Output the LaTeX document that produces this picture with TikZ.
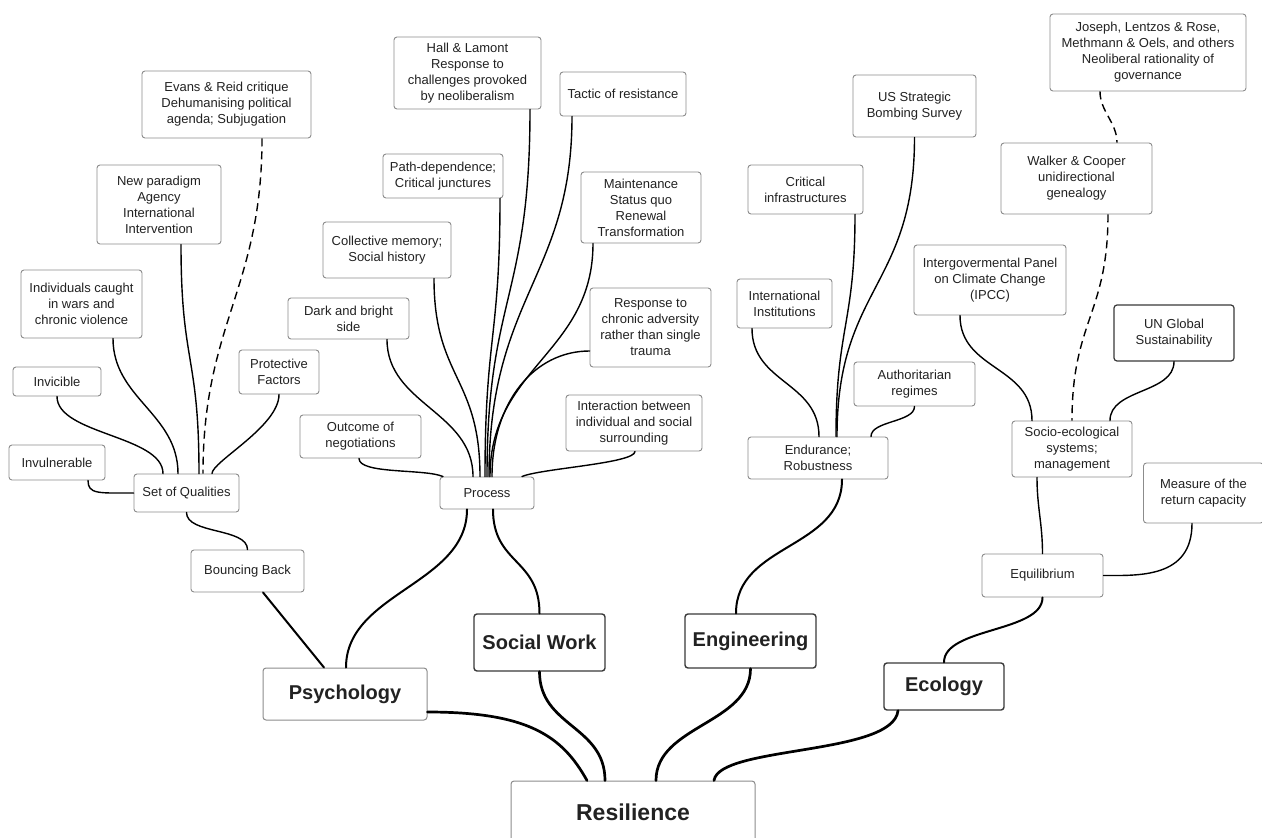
\documentclass[tikz,border=0pt]{standalone}
\usepackage{fontspec}
\setmainfont{Liberation Sans}
\definecolor{boxgray}{HTML}{8C8C8C}
\definecolor{darkbox}{HTML}{3A3A3A}
\definecolor{textc}{HTML}{222222}
\tikzset{
  box/.style={draw=boxgray, line width=0.9pt, rounded corners=3pt, fill=white,
    align=center, font=\fontsize{13}{16}\selectfont, text=textc, inner sep=0pt},
  mainbox/.style={box, draw=darkbox, line width=1.4pt,
    font=\bfseries\fontsize{20}{24}\selectfont},
  link/.style={line width=1.4pt, line cap=round},
  dlink/.style={line width=1.4pt, dash pattern=on 8pt off 5pt},
  midlink/.style={line width=2pt, line cap=round},
  trunk/.style={line width=2.7pt, line cap=round}
}
\begin{document}
\begin{tikzpicture}[x=1pt,y=-1pt]
\useasboundingbox (0,0) rectangle (1262,838);
\fill[white] (0,0) rectangle (1262,838);

% ---- Psychology group
\node[box, minimum width=169pt, minimum height=67pt] (evans) at (226.5,104.5) {Evans \& Reid critique\\Dehumanising political\\agenda; Subjugation};
\node[box, minimum width=124pt, minimum height=79pt] (newpar) at (159,204.5) {New paradigm\\Agency\\International\\Intervention};
\node[box, minimum width=121pt, minimum height=68pt] (indiv) at (81.5,304) {Individuals caught\\in wars and\\chronic violence};
\node[box, minimum width=88pt, minimum height=29pt] (invic) at (57,381.5) {Invicible};
\node[box, minimum width=96pt, minimum height=35pt] (invul) at (57,462.5) {Invulnerable};
\node[box, minimum width=105pt, minimum height=38pt] (soq) at (186.5,493) {Set of Qualities};
\node[box, minimum width=80pt, minimum height=44pt] (protect) at (279,372) {Protective\\Factors};
\node[box, minimum width=113pt, minimum height=42pt] (bounce) at (247.5,571) {Bouncing Back};

% ---- Social work group
\node[box, minimum width=121pt, minimum height=43pt] (outcome) at (360.5,436.5) {Outcome of\\negotiations};
\node[box, minimum width=147pt, minimum height=72pt] (hall) at (467.5,73) {Hall \& Lamont\\Response to\\challenges provoked\\by neoliberalism};
\node[box, minimum width=126pt, minimum height=44pt] (tactic) at (623,94) {Tactic of resistance};
\node[box, minimum width=120pt, minimum height=44pt] (path) at (443,176) {Path-dependence;\\Critical junctures};
\node[box, minimum width=120pt, minimum height=71pt] (maint) at (641,207.5) {Maintenance\\Status quo\\Renewal\\Transformation};
\node[box, minimum width=128pt, minimum height=56pt] (collect) at (387,250) {Collective memory;\\Social history};
\node[box, minimum width=121pt, minimum height=41pt] (dark) at (348.5,318.5) {Dark and bright\\side};
\node[box, minimum width=121pt, minimum height=79pt] (respon) at (650.5,327.5) {Response to\\chronic adversity\\rather than single\\trauma};
\node[box, minimum width=136pt, minimum height=56pt] (interact) at (634,423) {Interaction between\\individual and social\\surrounding};
\node[box, minimum width=94pt, minimum height=32pt] (process) at (487,493) {Process};

% ---- Engineering group
\node[box, minimum width=123pt, minimum height=62pt] (us) at (914.5,106) {US Strategic\\Bombing Survey};
\node[box, minimum width=115pt, minimum height=49pt] (crit) at (805.5,189.5) {Critical\\infrastructures};
\node[box, minimum width=95pt, minimum height=49pt] (intl) at (784.5,303.5) {International\\Institutions};
\node[box, minimum width=121pt, minimum height=44pt] (auth) at (914.5,384) {Authoritarian\\regimes};
\node[box, minimum width=140pt, minimum height=42pt] (endur) at (818,458) {Endurance;\\Robustness};

% ---- Ecology group
\node[box, minimum width=196pt, minimum height=77pt] (joseph) at (1148,52.5) {Joseph, Lentzos \& Rose,\\Methmann \& Oels, and others\\Neoliberal rationality of\\governance};
\node[box, minimum width=151pt, minimum height=71pt] (walker) at (1076.5,178.5) {Walker \& Cooper\\unidirectional\\genealogy};
\node[box, minimum width=152pt, minimum height=70pt] (ipcc) at (990,280) {Intergovermental Panel\\on Climate Change\\(IPCC)};
\node[box, draw=darkbox, line width=1.2pt, minimum width=120pt, minimum height=56pt] (un) at (1174,333) {UN Global\\Sustainability};
\node[box, minimum width=120pt, minimum height=56pt] (socio) at (1072,449) {Socio-ecological\\systems;\\management};
\node[box, minimum width=120pt, minimum height=60pt] (measure) at (1203.5,493) {Measure of the\\return capacity};
\node[box, minimum width=121pt, minimum height=43pt] (equil) at (1042.5,575.5) {Equilibrium};

% ---- Main branches
\node[mainbox, draw=boxgray, line width=1pt, minimum width=164pt, minimum height=52pt] (psych) at (345,694) {Psychology};
\node[mainbox, minimum width=131pt, minimum height=57pt] (social) at (539.5,642.5) {Social Work};
\node[mainbox, minimum width=131pt, minimum height=54pt] (engin) at (750.5,641) {Engineering};
\node[mainbox, minimum width=120pt, minimum height=47pt] (ecol) at (944,686.5) {Ecology};
\node[mainbox, draw=boxgray, line width=1pt, minimum width=244pt, minimum height=62pt,
      font=\bfseries\fontsize{23}{27}\selectfont] (resil) at (633,812) {Resilience};

% ---- Connectors: Psychology group
\draw[link] ([xshift=31pt]invul.south) .. controls +(0,14) and +(-35,0) .. (soq.west);
\draw[link] (invic.south) .. controls +(0,38) and +(0,-38) .. ([xshift=-23.5pt]soq.north);
\draw[link] ([xshift=31.5pt]indiv.south) .. controls +(0,60) and +(0,-60) .. ([xshift=-8.5pt]soq.north);
\draw[link] ([xshift=22pt]newpar.south) .. controls +(0,120) and +(0,-120) .. ([xshift=12.5pt]soq.north);
\draw[dlink] ([xshift=35.5pt]evans.south) .. controls +(0,150) and +(0,-150) .. ([xshift=16.5pt]soq.north);
\draw[link] (protect.south) .. controls +(0,32) and +(0,-12) .. ([xshift=25.5pt]soq.north);
\draw[link] (soq.south) .. controls +(0,22) and +(0,-22) .. (bounce.north);
\draw[midlink] ([xshift=15.5pt]bounce.south) -- ([xshift=-21pt]psych.north);
\draw[midlink] ([xshift=1pt]psych.north) .. controls +(0,-75) and +(0,75) .. ([xshift=-20pt]process.south);

% ---- Connectors: Process
\draw[link] ([xshift=-1.5pt]outcome.south) .. controls +(0,16) and +(-18,-8) .. ([xshift=-44pt]process.north);
\draw[link] ([xshift=1pt]interact.south) .. controls +(0,12) and +(18,-8) .. ([xshift=35pt]process.north);
\draw[link] ([xshift=38.5pt]dark.south) .. controls +(0,65) and +(0,-65) .. ([xshift=-14pt]process.north);
\draw[link] ([xshift=47pt]collect.south) .. controls +(0,100) and +(0,-100) .. ([xshift=-7pt]process.north);
\draw[link] ([xshift=57pt]path.south) .. controls +(0,140) and +(0,-140) .. ([xshift=-2pt]process.north);
\draw[link] ([xshift=62.5pt]hall.south) .. controls +(0,190) and +(0,-180) .. (process.north);
\draw[link] ([xshift=-51pt]tactic.south) .. controls +(0,160) and +(0,-180) .. ([xshift=2pt]process.north);
\draw[link] ([xshift=-48pt]maint.south) .. controls +(0,110) and +(0,-110) .. ([xshift=3pt]process.north);
\draw[link] ([yshift=-23.5pt]respon.west) .. controls +(-55,0) and +(0,-75) .. ([xshift=5pt]process.north);
\draw[midlink] ([xshift=6pt]process.south) .. controls +(0,55) and +(0,-55) .. (social.north);

% ---- Connectors: Engineering
\draw[link] (us.south) .. controls +(0,150) and +(0,-150) .. ([xshift=19pt]endur.north);
\draw[link] ([xshift=49.5pt]crit.south) .. controls +(0,110) and +(0,-110) .. ([xshift=18pt]endur.north);
\draw[link] ([xshift=-32.5pt]intl.south) .. controls +(0,55) and +(0,-55) .. ([xshift=1pt]endur.north);
\draw[link] (auth.south) .. controls +(0,16) and +(0,-16) .. ([xshift=53pt]endur.north);
\draw[midlink] ([xshift=24pt]endur.south) .. controls +(0,70) and +(0,-70) .. ([xshift=-14.5pt]engin.north);

% ---- Connectors: Ecology
\draw[dlink] ([xshift=-48pt]joseph.south) .. controls +(0,20) and +(0,-20) .. ([xshift=40.5pt]walker.north);
\draw[dlink] ([xshift=31.5pt]walker.south) .. controls +(0,100) and +(0,-100) .. (socio.north);
\draw[link] ([xshift=-30pt]ipcc.south) .. controls +(0,55) and +(0,-55) .. ([xshift=-40pt]socio.north);
\draw[link] (un.south) .. controls +(0,32) and +(0,-32) .. ([xshift=38pt]socio.north);
\draw[link] ([xshift=-35pt]socio.south) .. controls +(0,30) and +(0,-30) .. (equil.north);
\draw[link] ([xshift=-11.5pt]measure.south) .. controls +(0,55) and +(35,0) .. (equil.east);
\draw[midlink] (equil.south) .. controls +(0,35) and +(0,-35) .. (ecol.north);

% ---- Trunk connectors
\draw[trunk] ([yshift=-18pt]psych.east) .. controls +(100,0) and +(-25,-45) .. ([xshift=-46pt]resil.north);
\draw[trunk] (social.south) .. controls +(0,55) and +(0,-55) .. ([xshift=-28pt]resil.north);
\draw[trunk] (engin.south) .. controls +(0,55) and +(0,-55) .. ([xshift=23pt]resil.north);
\draw[trunk] ([xshift=-46pt]ecol.south) .. controls +(-5,45) and +(5,-35) .. ([xshift=81pt]resil.north);
\end{tikzpicture}
\end{document}
